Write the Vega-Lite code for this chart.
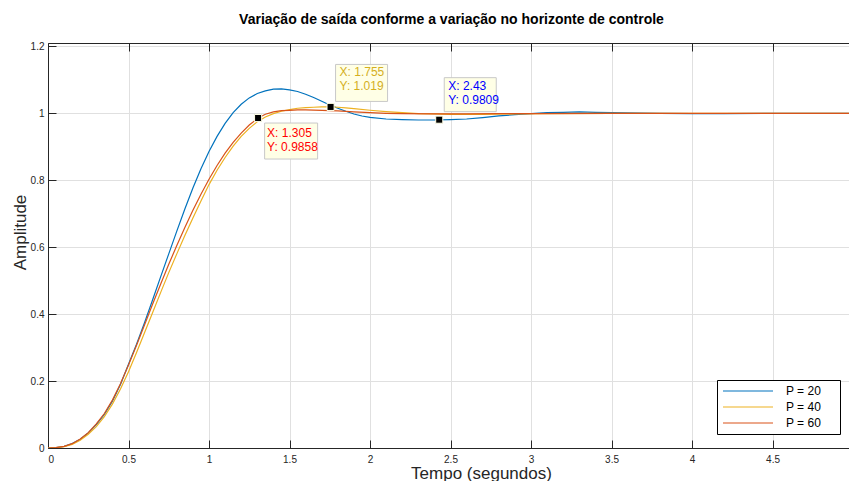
{
  "$schema": "https://vega.github.io/schema/vega-lite/v6.json",
  "width": 801,
  "height": 405,
  "autosize": "none",
  "padding": {"left": 48, "top": 43, "right": 0, "bottom": 33},
  "background": "white",
  "title": {
    "text": "Variação de saída conforme a variação no horizonte de controle",
    "font": "Liberation Sans",
    "fontSize": 14,
    "fontWeight": "bold",
    "color": "#000000",
    "anchor": "middle",
    "offset": 14,
    "dx": 3
  },
  "config": {
    "view": {"stroke": null},
    "font": "Liberation Sans",
    "axis": {
      "domainColor": "#262626",
      "domainWidth": 1,
      "tickColor": "#262626",
      "tickSize": -8,
      "tickWidth": 1,
      "labelFont": "Liberation Sans",
      "labelFontSize": 10,
      "labelColor": "#262626",
      "gridColor": "#e0e0e0",
      "gridWidth": 1,
      "titleFont": "Liberation Sans",
      "titleFontSize": 17,
      "titleFontWeight": "normal",
      "titleColor": "#262626"
    }
  },
  "datasets": {
    "curves": [
      {"t": 0, "v": 0, "P": "P = 20"},
      {"t": 0.05, "v": 0.001, "P": "P = 20"},
      {"t": 0.1, "v": 0.005, "P": "P = 20"},
      {"t": 0.15, "v": 0.013, "P": "P = 20"},
      {"t": 0.2, "v": 0.026, "P": "P = 20"},
      {"t": 0.25, "v": 0.045, "P": "P = 20"},
      {"t": 0.3, "v": 0.07, "P": "P = 20"},
      {"t": 0.35, "v": 0.1, "P": "P = 20"},
      {"t": 0.4, "v": 0.14, "P": "P = 20"},
      {"t": 0.45, "v": 0.19, "P": "P = 20"},
      {"t": 0.5, "v": 0.25, "P": "P = 20"},
      {"t": 0.55, "v": 0.31, "P": "P = 20"},
      {"t": 0.6, "v": 0.375, "P": "P = 20"},
      {"t": 0.65, "v": 0.443, "P": "P = 20"},
      {"t": 0.7, "v": 0.512, "P": "P = 20"},
      {"t": 0.75, "v": 0.58, "P": "P = 20"},
      {"t": 0.8, "v": 0.648, "P": "P = 20"},
      {"t": 0.85, "v": 0.714, "P": "P = 20"},
      {"t": 0.9, "v": 0.777, "P": "P = 20"},
      {"t": 0.95, "v": 0.834, "P": "P = 20"},
      {"t": 1.0, "v": 0.886, "P": "P = 20"},
      {"t": 1.05, "v": 0.931, "P": "P = 20"},
      {"t": 1.1, "v": 0.97, "P": "P = 20"},
      {"t": 1.15, "v": 1.002, "P": "P = 20"},
      {"t": 1.2, "v": 1.027, "P": "P = 20"},
      {"t": 1.25, "v": 1.046, "P": "P = 20"},
      {"t": 1.3, "v": 1.059, "P": "P = 20"},
      {"t": 1.35, "v": 1.067, "P": "P = 20"},
      {"t": 1.4, "v": 1.072, "P": "P = 20"},
      {"t": 1.45, "v": 1.073, "P": "P = 20"},
      {"t": 1.5, "v": 1.07, "P": "P = 20"},
      {"t": 1.55, "v": 1.065, "P": "P = 20"},
      {"t": 1.6, "v": 1.057, "P": "P = 20"},
      {"t": 1.65, "v": 1.047, "P": "P = 20"},
      {"t": 1.7, "v": 1.036, "P": "P = 20"},
      {"t": 1.75, "v": 1.025, "P": "P = 20"},
      {"t": 1.8, "v": 1.015, "P": "P = 20"},
      {"t": 1.85, "v": 1.006, "P": "P = 20"},
      {"t": 1.9, "v": 0.998, "P": "P = 20"},
      {"t": 1.95, "v": 0.992, "P": "P = 20"},
      {"t": 2.0, "v": 0.988, "P": "P = 20"},
      {"t": 2.1, "v": 0.983, "P": "P = 20"},
      {"t": 2.2, "v": 0.981, "P": "P = 20"},
      {"t": 2.3, "v": 0.98, "P": "P = 20"},
      {"t": 2.4, "v": 0.98, "P": "P = 20"},
      {"t": 2.5, "v": 0.981, "P": "P = 20"},
      {"t": 2.6, "v": 0.983, "P": "P = 20"},
      {"t": 2.7, "v": 0.987, "P": "P = 20"},
      {"t": 2.8, "v": 0.992, "P": "P = 20"},
      {"t": 2.9, "v": 0.996, "P": "P = 20"},
      {"t": 3.0, "v": 0.999, "P": "P = 20"},
      {"t": 3.1, "v": 1.002, "P": "P = 20"},
      {"t": 3.2, "v": 1.003, "P": "P = 20"},
      {"t": 3.3, "v": 1.004, "P": "P = 20"},
      {"t": 3.4, "v": 1.003, "P": "P = 20"},
      {"t": 3.5, "v": 1.002, "P": "P = 20"},
      {"t": 3.6, "v": 1.001, "P": "P = 20"},
      {"t": 3.8, "v": 1.0, "P": "P = 20"},
      {"t": 4.0, "v": 0.999, "P": "P = 20"},
      {"t": 4.2, "v": 0.999, "P": "P = 20"},
      {"t": 4.5, "v": 1.0, "P": "P = 20"},
      {"t": 5.0, "v": 1.0, "P": "P = 20"},
      {"t": 0, "v": 0, "P": "P = 40"},
      {"t": 0.05, "v": 0.001, "P": "P = 40"},
      {"t": 0.1, "v": 0.004, "P": "P = 40"},
      {"t": 0.15, "v": 0.011, "P": "P = 40"},
      {"t": 0.2, "v": 0.023, "P": "P = 40"},
      {"t": 0.25, "v": 0.041, "P": "P = 40"},
      {"t": 0.3, "v": 0.064, "P": "P = 40"},
      {"t": 0.35, "v": 0.094, "P": "P = 40"},
      {"t": 0.4, "v": 0.131, "P": "P = 40"},
      {"t": 0.45, "v": 0.176, "P": "P = 40"},
      {"t": 0.5, "v": 0.228, "P": "P = 40"},
      {"t": 0.55, "v": 0.285, "P": "P = 40"},
      {"t": 0.6, "v": 0.345, "P": "P = 40"},
      {"t": 0.65, "v": 0.405, "P": "P = 40"},
      {"t": 0.7, "v": 0.465, "P": "P = 40"},
      {"t": 0.75, "v": 0.524, "P": "P = 40"},
      {"t": 0.8, "v": 0.58, "P": "P = 40"},
      {"t": 0.85, "v": 0.635, "P": "P = 40"},
      {"t": 0.9, "v": 0.687, "P": "P = 40"},
      {"t": 0.95, "v": 0.738, "P": "P = 40"},
      {"t": 1.0, "v": 0.787, "P": "P = 40"},
      {"t": 1.05, "v": 0.83, "P": "P = 40"},
      {"t": 1.1, "v": 0.868, "P": "P = 40"},
      {"t": 1.15, "v": 0.902, "P": "P = 40"},
      {"t": 1.2, "v": 0.931, "P": "P = 40"},
      {"t": 1.25, "v": 0.955, "P": "P = 40"},
      {"t": 1.3, "v": 0.975, "P": "P = 40"},
      {"t": 1.35, "v": 0.989, "P": "P = 40"},
      {"t": 1.4, "v": 0.999, "P": "P = 40"},
      {"t": 1.45, "v": 1.006, "P": "P = 40"},
      {"t": 1.5, "v": 1.011, "P": "P = 40"},
      {"t": 1.55, "v": 1.015, "P": "P = 40"},
      {"t": 1.6, "v": 1.017, "P": "P = 40"},
      {"t": 1.65, "v": 1.018, "P": "P = 40"},
      {"t": 1.7, "v": 1.019, "P": "P = 40"},
      {"t": 1.755, "v": 1.019, "P": "P = 40"},
      {"t": 1.8, "v": 1.018, "P": "P = 40"},
      {"t": 1.85, "v": 1.016, "P": "P = 40"},
      {"t": 1.9, "v": 1.014, "P": "P = 40"},
      {"t": 2.0, "v": 1.009, "P": "P = 40"},
      {"t": 2.1, "v": 1.005, "P": "P = 40"},
      {"t": 2.2, "v": 1.002, "P": "P = 40"},
      {"t": 2.3, "v": 0.999, "P": "P = 40"},
      {"t": 2.4, "v": 0.998, "P": "P = 40"},
      {"t": 2.5, "v": 0.997, "P": "P = 40"},
      {"t": 2.7, "v": 0.997, "P": "P = 40"},
      {"t": 2.9, "v": 0.998, "P": "P = 40"},
      {"t": 3.1, "v": 0.999, "P": "P = 40"},
      {"t": 3.5, "v": 1.0, "P": "P = 40"},
      {"t": 4.0, "v": 1.0, "P": "P = 40"},
      {"t": 5.0, "v": 1.0, "P": "P = 40"},
      {"t": 0, "v": 0, "P": "P = 60"},
      {"t": 0.05, "v": 0.001, "P": "P = 60"},
      {"t": 0.1, "v": 0.005, "P": "P = 60"},
      {"t": 0.15, "v": 0.013, "P": "P = 60"},
      {"t": 0.2, "v": 0.027, "P": "P = 60"},
      {"t": 0.25, "v": 0.046, "P": "P = 60"},
      {"t": 0.3, "v": 0.072, "P": "P = 60"},
      {"t": 0.35, "v": 0.103, "P": "P = 60"},
      {"t": 0.4, "v": 0.143, "P": "P = 60"},
      {"t": 0.45, "v": 0.192, "P": "P = 60"},
      {"t": 0.5, "v": 0.248, "P": "P = 60"},
      {"t": 0.55, "v": 0.307, "P": "P = 60"},
      {"t": 0.6, "v": 0.368, "P": "P = 60"},
      {"t": 0.65, "v": 0.43, "P": "P = 60"},
      {"t": 0.7, "v": 0.49, "P": "P = 60"},
      {"t": 0.75, "v": 0.549, "P": "P = 60"},
      {"t": 0.8, "v": 0.605, "P": "P = 60"},
      {"t": 0.85, "v": 0.659, "P": "P = 60"},
      {"t": 0.9, "v": 0.71, "P": "P = 60"},
      {"t": 0.95, "v": 0.758, "P": "P = 60"},
      {"t": 1.0, "v": 0.803, "P": "P = 60"},
      {"t": 1.05, "v": 0.844, "P": "P = 60"},
      {"t": 1.1, "v": 0.881, "P": "P = 60"},
      {"t": 1.15, "v": 0.913, "P": "P = 60"},
      {"t": 1.2, "v": 0.941, "P": "P = 60"},
      {"t": 1.25, "v": 0.965, "P": "P = 60"},
      {"t": 1.305, "v": 0.9858, "P": "P = 60"},
      {"t": 1.35, "v": 0.997, "P": "P = 60"},
      {"t": 1.4, "v": 1.004, "P": "P = 60"},
      {"t": 1.45, "v": 1.008, "P": "P = 60"},
      {"t": 1.5, "v": 1.009, "P": "P = 60"},
      {"t": 1.55, "v": 1.01, "P": "P = 60"},
      {"t": 1.6, "v": 1.01, "P": "P = 60"},
      {"t": 1.7, "v": 1.009, "P": "P = 60"},
      {"t": 1.8, "v": 1.007, "P": "P = 60"},
      {"t": 1.9, "v": 1.004, "P": "P = 60"},
      {"t": 2.0, "v": 1.002, "P": "P = 60"},
      {"t": 2.1, "v": 1.0, "P": "P = 60"},
      {"t": 2.2, "v": 0.999, "P": "P = 60"},
      {"t": 2.4, "v": 0.998, "P": "P = 60"},
      {"t": 2.6, "v": 0.998, "P": "P = 60"},
      {"t": 2.8, "v": 0.999, "P": "P = 60"},
      {"t": 3.0, "v": 0.999, "P": "P = 60"},
      {"t": 3.5, "v": 1.0, "P": "P = 60"},
      {"t": 4.0, "v": 1.0, "P": "P = 60"},
      {"t": 5.0, "v": 1.0, "P": "P = 60"}
    ],
    "tips": [
      {"tip": "a", "t": 1.305, "v": 0.9858, "label": "X: 1.305\nY: 0.9858"},
      {"tip": "b", "t": 1.755, "v": 1.019, "label": "X: 1.755\nY: 1.019"},
      {"tip": "c", "t": 2.43, "v": 0.9809, "label": "X: 2.43\nY: 0.9809"}
    ]
  },
  "layer": [
    {
      "data": {"name": "curves"},
      "mark": {"type": "line", "strokeWidth": 1.2, "clip": true},
      "encoding": {
        "x": {
          "field": "t", "type": "quantitative",
          "scale": {"domain": [0, 4.975], "nice": false, "zero": false},
          "axis": {
            "orient": "bottom",
            "values": [0, 0.5, 1, 1.5, 2, 2.5, 3, 3.5, 4, 4.5],
            "format": "~g",
            "labelPadding": 14,
            "grid": true,
            "title": "Tempo (segundos)",
            "titleX": 433,
            "titleY": 30,
            "titleBaseline": "alphabetic",
            "titleAnchor": null
          }
        },
        "y": {
          "field": "v", "type": "quantitative",
          "scale": {"domain": [0, 1.21], "nice": false},
          "axis": {
            "values": [0, 0.2, 0.4, 0.6, 0.8, 1, 1.2],
            "format": "~g",
            "labelPadding": 12,
            "grid": true,
            "title": "Amplitude",
            "titleAngle": -90,
            "titleX": -23,
            "titleY": 189,
            "titleBaseline": "alphabetic",
            "titleAlign": "center"
          }
        },
        "color": {
          "field": "P", "type": "nominal",
          "scale": {"domain": ["P = 20", "P = 40", "P = 60"], "range": ["#0072BD", "#EDB120", "#D95319"]},
          "legend": {
            "title": "\u00a0",
            "titleOrient": "right",
            "titlePadding": 14,
            "titleFontSize": 4,
            "orient": "none",
            "legendX": 669,
            "legendY": 337,
            "direction": "vertical",
            "fillColor": "white",
            "strokeColor": "#000000",
            "padding": 5,
            "symbolType": "M-5,0H5",
            "symbolSize": 100,
            "symbolStrokeWidth": 1.2,
            "symbolOffset": 20,
            "labelOffset": 32,
            "labelFontSize": 12,
            "labelColor": "#000000",
            "labelFont": "Liberation Sans",
            "rowPadding": 4
          }
        },
        "order": {"field": "P"}
      }
    },
    {
      "data": {"name": "tips"},
      "mark": {"type": "point", "opacity": 0},
      "encoding": {
        "x": {
          "field": "t", "type": "quantitative",
          "axis": {
            "orient": "top",
            "values": [0, 0.5, 1, 1.5, 2, 2.5, 3, 3.5, 4, 4.5],
            "labels": false,
            "grid": false,
            "title": null
          }
        },
        "y": {"field": "v", "type": "quantitative"}
      }
    },
    {
      "data": {"name": "tips"},
      "transform": [{"filter": "datum.tip == 'a'"}],
      "mark": {"type": "rect", "width": 53, "height": 36, "xOffset": 33, "yOffset": 23, "fill": "#FFFFE6", "stroke": "#C8C8C8", "strokeWidth": 1},
      "encoding": {"x": {"field": "t", "type": "quantitative", "axis": null}, "y": {"field": "v", "type": "quantitative"}}
    },
    {
      "data": {"name": "tips"},
      "transform": [{"filter": "datum.tip == 'b'"}],
      "mark": {"type": "rect", "width": 52, "height": 37, "xOffset": 31, "yOffset": -24, "fill": "#FFFFE6", "stroke": "#C8C8C8", "strokeWidth": 1},
      "encoding": {"x": {"field": "t", "type": "quantitative", "axis": null}, "y": {"field": "v", "type": "quantitative"}}
    },
    {
      "data": {"name": "tips"},
      "transform": [{"filter": "datum.tip == 'c'"}],
      "mark": {"type": "rect", "width": 52, "height": 34, "xOffset": 31, "yOffset": -25, "fill": "#FFFFE6", "stroke": "#C8C8C8", "strokeWidth": 1},
      "encoding": {"x": {"field": "t", "type": "quantitative", "axis": null}, "y": {"field": "v", "type": "quantitative"}}
    },
    {
      "data": {"name": "tips"},
      "transform": [{"filter": "datum.tip == 'a'"}],
      "mark": {"type": "text", "align": "left", "baseline": "top", "dx": 9, "dy": 10, "fontSize": 12, "lineHeight": 14, "lineBreak": "\n", "color": "#FF0000"},
      "encoding": {"x": {"field": "t", "type": "quantitative", "axis": null}, "y": {"field": "v", "type": "quantitative"}, "text": {"field": "label"}}
    },
    {
      "data": {"name": "tips"},
      "transform": [{"filter": "datum.tip == 'b'"}],
      "mark": {"type": "text", "align": "left", "baseline": "top", "dx": 9, "dy": -40, "fontSize": 12, "lineHeight": 14, "lineBreak": "\n", "color": "#D4AF1E"},
      "encoding": {"x": {"field": "t", "type": "quantitative", "axis": null}, "y": {"field": "v", "type": "quantitative"}, "text": {"field": "label"}}
    },
    {
      "data": {"name": "tips"},
      "transform": [{"filter": "datum.tip == 'c'"}],
      "mark": {"type": "text", "align": "left", "baseline": "top", "dx": 9, "dy": -39, "fontSize": 12, "lineHeight": 14, "lineBreak": "\n", "color": "#0000FF"},
      "encoding": {"x": {"field": "t", "type": "quantitative", "axis": null}, "y": {"field": "v", "type": "quantitative"}, "text": {"field": "label"}}
    },
    {
      "data": {"name": "tips"},
      "mark": {"type": "point", "shape": "square", "size": 50, "filled": true, "color": "#000000", "stroke": "#FFFFE6", "strokeWidth": 1, "opacity": 1},
      "encoding": {"x": {"field": "t", "type": "quantitative", "axis": null}, "y": {"field": "v", "type": "quantitative"}}
    }
  ],
  "resolve": {"axis": {"x": "independent"}}
}
